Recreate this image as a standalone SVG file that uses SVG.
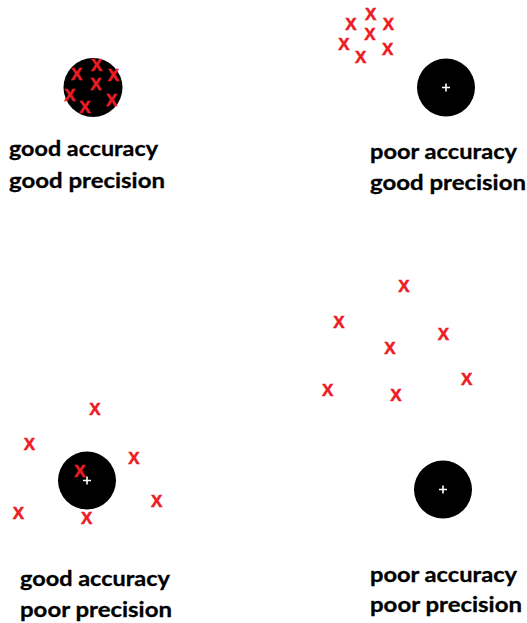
<svg xmlns="http://www.w3.org/2000/svg" width="527" height="623" viewBox="0 0 527 623">
<style>
.t{fill:#ed1c24;stroke:#ed1c24;stroke-width:0.5;font-family:"Liberation Sans",Arial,sans-serif;font-weight:bold;font-size:17px;text-anchor:middle}
.lbl{fill:#000;stroke:#000;stroke-width:0.3;font-family:Lato,"Liberation Sans",sans-serif;font-weight:bold;font-size:21px}
.pl{stroke:#fff;stroke-width:1.6}
</style>
<rect width="527" height="623" fill="#fff"/>
<g id="target-1">
<circle cx="93" cy="87.5" r="29.5" fill="#000"/>
<g class="t">
<text x="96.7" y="71">X</text><text x="76.7" y="80">X</text><text x="113.3" y="81">X</text><text x="96" y="90">X</text><text x="70" y="101">X</text><text x="111.7" y="106">X</text><text x="85" y="112.7">X</text>
</g>
</g>
<g id="target-2">
<circle cx="446" cy="87.5" r="29" fill="#000"/>
<path class="pl" d="M442 87.5h8M446 83.5v8"/>
<g class="t">
<text x="370.7" y="20">X</text><text x="351" y="30.3">X</text><text x="388.3" y="30.3">X</text><text x="370" y="40">X</text><text x="344" y="50">X</text><text x="387.7" y="55.3">X</text><text x="360.7" y="62.7">X</text>
</g>
</g>
<g id="target-3">
<circle cx="87" cy="480.5" r="29" fill="#000"/>
<path class="pl" d="M83 480.5h8M87 476.5v8"/>
<g class="t">
<text x="95" y="415">X</text><text x="29.3" y="450">X</text><text x="134" y="463.7">X</text><text x="80" y="476.7">X</text><text x="156.7" y="507">X</text><text x="18.3" y="518.7">X</text><text x="86.7" y="523.7">X</text>
</g>
</g>
<g id="target-4">
<circle cx="443" cy="489.5" r="29" fill="#000"/>
<path class="pl" d="M439 489.5h8M443 485.5v8"/>
<g class="t">
<text x="404" y="292">X</text><text x="339" y="327.7">X</text><text x="443.3" y="340.3">X</text><text x="390" y="354.3">X</text><text x="466.7" y="385">X</text><text x="327.7" y="396">X</text><text x="396" y="401">X</text>
</g>
</g>
<g id="labels" class="lbl">
<text x="9" y="156" textLength="149" lengthAdjust="spacingAndGlyphs">good accuracy</text>
<text x="9" y="188" textLength="156" lengthAdjust="spacingAndGlyphs">good precision</text>
<text x="370" y="159" textLength="147" lengthAdjust="spacingAndGlyphs">poor accuracy</text>
<text x="370" y="190" textLength="156" lengthAdjust="spacingAndGlyphs">good precision</text>
<text x="20" y="586" textLength="150" lengthAdjust="spacingAndGlyphs">good accuracy</text>
<text x="20" y="617" textLength="152" lengthAdjust="spacingAndGlyphs">poor precision</text>
<text x="370" y="582" textLength="147" lengthAdjust="spacingAndGlyphs">poor accuracy</text>
<text x="370" y="612" textLength="152" lengthAdjust="spacingAndGlyphs">poor precision</text>
</g>
</svg>
